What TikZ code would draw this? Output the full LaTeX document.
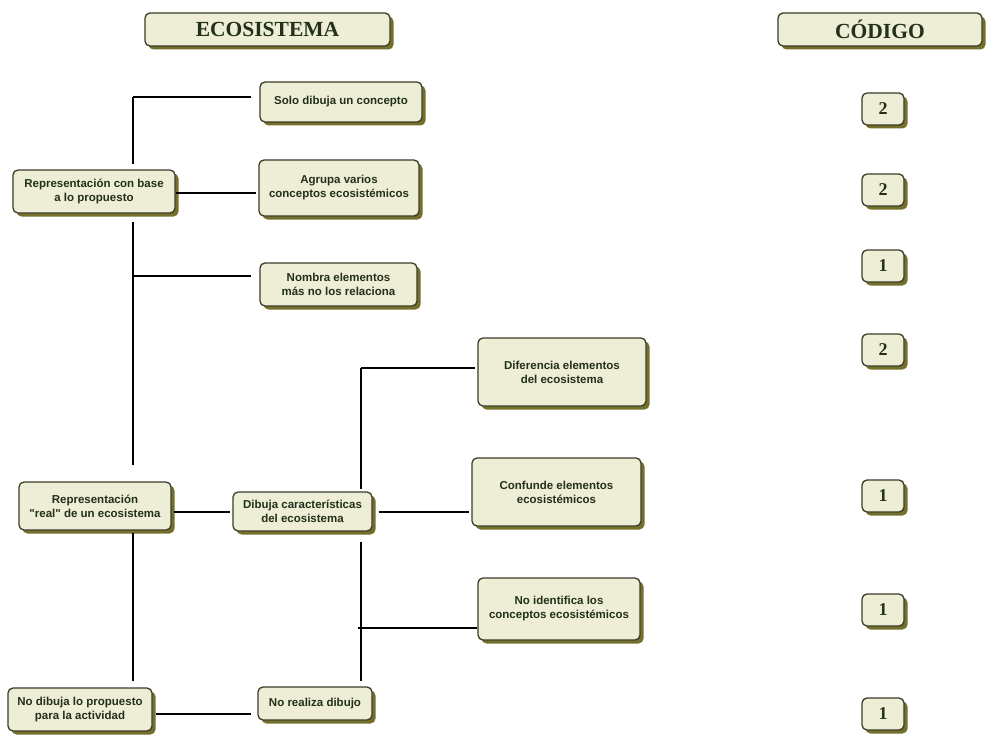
\documentclass[tikz,border=0pt]{standalone}
\usepackage{fontspec}
\setmainfont{Liberation Serif}
\newfontfamily\boxfont{Liberation Sans}
\usetikzlibrary{shadows}
\definecolor{boxfill}{HTML}{EEEDD5}
\definecolor{boxdraw}{HTML}{3A3D2A}
\definecolor{shade}{HTML}{74702A}
\definecolor{txt}{HTML}{22301C}
\tikzset{
  base/.style={draw=boxdraw, line width=1.3pt, fill=boxfill, rounded corners=5pt,
    drop shadow={shadow xshift=3.5pt, shadow yshift=-3.5pt, fill=shade, opacity=1},
    inner sep=0pt, align=center, text=txt},
  box/.style={base, font=\boxfont\bfseries\fontsize{11.5}{14}\selectfont},
  title/.style={base, font=\bfseries\fontsize{21.5}{24}\selectfont},
  code/.style={base, minimum width=42pt, minimum height=32pt, font=\bfseries\fontsize{18}{20}\selectfont},
  conn/.style={draw=black, line width=1.3pt},
}
\begin{document}
\begin{tikzpicture}[x=1pt,y=-1pt]
\useasboundingbox (0,0) rectangle (987,741);
\fill[white] (0,0) rectangle (987,741);

% titles
\node[title, minimum width=245pt, minimum height=33pt] (eco) at (267.5,29.5) {ECOSISTEMA};
\node[title, minimum width=204pt, minimum height=33pt] (cod) at (880,29.5) {CÓDIGO};

% upper branch
\node[box, minimum width=162pt, minimum height=40pt] (solo) at (341,102) {Solo dibuja un concepto};
\node[box, minimum width=160pt, minimum height=56pt] (agrupa) at (339,188) {Agrupa varios\\conceptos ecosistémicos};
\node[box, minimum width=157pt, minimum height=43pt] (nombra) at (338.5,284.5) {Nombra elementos\\más no los relaciona};
\node[box, minimum width=162pt, minimum height=43pt] (rbase) at (94,191.5) {Representación con base\\a lo propuesto};

% lower branch
\node[box, minimum width=168pt, minimum height=68pt] (dif) at (562,372) {Diferencia elementos\\del ecosistema};
\node[box, minimum width=169pt, minimum height=68pt] (conf) at (556.5,492) {Confunde elementos\\ecosistémicos};
\node[box, minimum width=162pt, minimum height=62pt] (noid) at (559,609) {No identifica los\\conceptos ecosistémicos};
\node[box, minimum width=152pt, minimum height=48pt] (real) at (95,506) {Representación\\"real" de un ecosistema};
\node[box, minimum width=139pt, minimum height=39pt] (dib) at (302.5,511.5) {Dibuja características\\del ecosistema};
\node[box, minimum width=144pt, minimum height=43pt] (nodib) at (80,709.5) {No dibuja lo propuesto\\para la actividad};
\node[box, minimum width=114pt, minimum height=33pt] (noreal) at (315,703.5) {No realiza dibujo};

% codes
\node[code] (c1) at (883,109) {2};
\node[code] (c2) at (883,190) {2};
\node[code] (c3) at (883,266) {1};
\node[code] (c4) at (883,350) {2};
\node[code] (c5) at (883,496) {1};
\node[code] (c6) at (883,610) {1};
\node[code] (c7) at (883,714) {1};

% spine coordinates
\coordinate (lx) at (133,0);
\coordinate (rx) at (361,0);
\coordinate (ltop) at (133,97);
\coordinate (lnom) at (133,276);
\coordinate (rdif) at (361,368);
\coordinate (rnoid) at (358,628);

% connectors upper
\draw[conn] (ltop) -- (ltop -| solo.west) [shorten >=8pt];
\draw[conn, shorten >=5pt] (ltop) -- (rbase.north -| lx);
\draw[conn, shorten >=2pt] (rbase.east |- 0,193) -- (agrupa.west |- 0,193);
\draw[conn, shorten <=8pt, shorten >=16pt] (rbase.south -| lx) -- (real.north -| lx);
\draw[conn, shorten >=8pt] (lnom) -- (lnom -| nombra.west);

% connectors lower
\draw[conn, shorten <=2pt, shorten >=2pt] (real.east |- 0,512) -- (dib.west |- 0,512);
\draw[conn, shorten <=6pt, shorten >=2pt] (dib.east |- 0,512) -- (conf.west |- 0,512);
\draw[conn, shorten >=2pt] (rdif) -- (rdif -| dif.west);
\draw[conn, shorten >=2pt] (rdif) -- (dib.north -| rx);
\draw[conn, shorten <=10pt, shorten >=5pt] (dib.south -| rx) -- (noreal.north -| rx);
\draw[conn] (rnoid) -- (rnoid -| noid.west);
\draw[conn, shorten <=2pt, shorten >=6pt] (real.south -| lx) -- (nodib.north -| lx);
\draw[conn, shorten <=3pt, shorten >=6pt] (nodib.east |- 0,714) -- (noreal.west |- 0,714);
\end{tikzpicture}
\end{document}
